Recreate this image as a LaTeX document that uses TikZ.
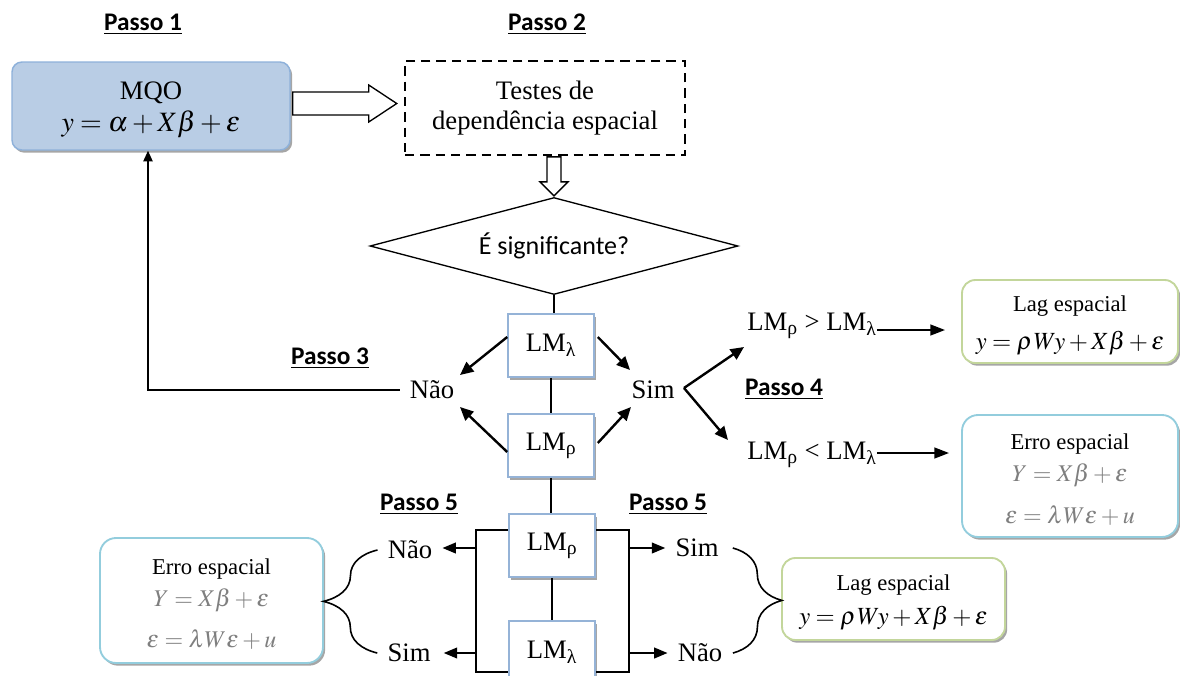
\documentclass[tikz,border=0pt]{standalone}
\usepackage{mathptmx}
\usepackage{fontspec}
\setmainfont{Liberation Serif}
\newfontfamily\calib{Carlito}
\usetikzlibrary{shapes.geometric,arrows.meta,shadows,calc,decorations.pathreplacing}
\definecolor{mqofill}{HTML}{B9CDE5}
\definecolor{mqoline}{HTML}{8EB1DA}
\definecolor{lmline}{HTML}{95B3D7}
\definecolor{lagline}{HTML}{C3D69B}
\definecolor{erroline}{HTML}{93CDDD}
\definecolor{eqgray}{HTML}{7F7F7F}
\newcommand{\lageq}{{\fontsize{18.5}{23}\selectfont$y=\rho\mkern1mu Wy+X\beta+\varepsilon$}}
\newcommand{\erroeqa}{{\fontsize{18}{23}\selectfont\textcolor{eqgray}{$Y=X\beta+\varepsilon$}}}
\newcommand{\erroeqb}{{\fontsize{18}{23}\selectfont\textcolor{eqgray}{$\varepsilon=\lambda W\varepsilon+u$}}}
\newcommand{\topstrut}[1]{\rule{0pt}{#1}}
\begin{document}
\begin{tikzpicture}[x=0.75pt,y=-0.75pt,
  passo/.style={font=\calib\bfseries\fontsize{19}{23}\selectfont, anchor=base, inner sep=0pt},
  lbl/.style={font=\fontsize{20}{23}\selectfont, inner sep=0pt},
  shad/.style={drop shadow={shadow xshift=1.6pt, shadow yshift=-2pt, opacity=0.35, fill=black}},
  mqobox/.style={draw=mqoline, line width=1.1pt, fill=mqofill, rounded corners=7.5pt, shad,
    minimum width=208.5pt, minimum height=66pt, inner sep=0pt, align=center,
    font=\fontsize{20}{24}\selectfont},
  testbox/.style={draw, line width=1.5pt, dash pattern=on 7pt off 4.5pt,
    minimum width=210pt, minimum height=70.5pt, inner sep=0pt, align=center,
    font=\fontsize{20}{23}\selectfont},
  decision/.style={diamond, aspect=3.8, draw, line width=1pt, minimum width=276pt,
    minimum height=72.75pt, inner sep=0pt, font=\calib\fontsize{19.5}{23}\selectfont},
  lmbox/.style={draw=lmline, line width=1.2pt, fill=white, shad, minimum width=64.5pt,
    minimum height=47.25pt, inner sep=0pt, font=\fontsize{20}{23}\selectfont},
  lagbox/.style={draw=lagline, line width=1.4pt, fill=white, rounded corners=10pt, shad,
    inner sep=0pt, align=center, font=\fontsize{17}{23}\selectfont},
  errobox/.style={draw=erroline, line width=1.4pt, fill=white, rounded corners=12pt, shad,
    inner sep=0pt, align=center, font=\fontsize{17}{23}\selectfont},
  conn/.style={line width=1.1pt},
  arrT/.style={line width=1.8pt, -{Triangle[length=10pt,width=9pt]}},
  arrH/.style={line width=1.6pt, -{Triangle[length=11pt,width=8pt]}},
  arrB/.style={line width=1.3pt, -{Triangle[length=10pt,width=8pt]}},
  arrM/.style={line width=1.1pt, -{Triangle[length=8pt,width=7pt]}},
  brc/.style={line width=1.2pt, decorate},
  blockarr/.style={line width=1pt, fill=white, line join=miter}
]
\useasboundingbox (0,0) rectangle (1180,675);

% step labels
\node[passo] (p1) at (143,30) {\underline{Passo 1}};
\node[passo] (p2) at (547,30) {\underline{Passo 2}};
\node[passo] (p3) at (330,364) {\underline{Passo 3}};
\node[passo] (p4) at (784,395) {\underline{Passo 4}};
\node[passo] (p5a) at (419,510) {\underline{Passo 5}};
\node[passo] (p5b) at (668,510) {\underline{Passo 5}};

% main boxes
\node[mqobox] (mqo) at (151,106) {\topstrut{19pt}MQO\\[0pt]{\fontsize{21}{24}\selectfont$y=\alpha+X\beta+\varepsilon$}};
\node[testbox] (tst) at (545,108) {Testes de\\dependência espacial};
\node[decision] (sig) at (554,246) {É significante?};

\node[lmbox] (lml1) at (551,345.5) {LM\textsubscript{λ}};
\node[lmbox] (lmr1) at (551,445.5) {LM\textsubscript{ρ}};
\node[lmbox] (lmr2) at (552,545.5) {LM\textsubscript{ρ}};
\node[lmbox] (lml2) at (552,652.5) {LM\textsubscript{λ}};

% labels
\node[lbl] (nao1) at (432,390) {Não};
\node[lbl] (sim1) at (653,390) {Sim};
\node[lbl] (gt) at (812,326) {LM\textsubscript{ρ} > LM\textsubscript{λ}};
\node[lbl] (lt) at (812,455) {LM\textsubscript{ρ} < LM\textsubscript{λ}};
\node[lbl] (nao2) at (410,550) {Não};
\node[lbl] (sim2) at (409,653) {Sim};
\node[lbl] (sim3) at (697,548) {Sim};
\node[lbl] (nao3) at (700,653) {Não};

% result boxes
\node[lagbox, minimum width=162pt, minimum height=62.25pt] (lagR) at (1070,321.5)
  {\topstrut{18pt}Lag espacial\\[5pt]\lageq};
\node[errobox, minimum width=162pt, minimum height=91.5pt] (erroR) at (1070,476)
  {\topstrut{17pt}Erro espacial\\[1pt]\erroeqa\\[8pt]\erroeqb};
\node[errobox, minimum width=167.25pt, minimum height=93.75pt] (erroL) at (211.5,600.5)
  {\topstrut{17pt}Erro espacial\\[1pt]\erroeqa\\[8pt]\erroeqb};
\node[lagbox, minimum width=167.25pt, minimum height=61.5pt] (lagB) at (893.5,599)
  {\topstrut{17pt}Lag espacial\\[2pt]\lageq};

% block arrows
\draw[blockarr] ($(mqo.east)+(2,-14)$) -- ++(76,0) -- ++(0,-7) -- ++(28,18.5)
  -- ++(-28,18.5) -- ++(0,-7) -- ++(-76,0) -- cycle;
\draw[blockarr] ($(sig.north)+(0,-1)$) -- ++(-14,-14) -- ++(7,0) -- ++(0,-25)
  -- ++(14,0) -- ++(0,25) -- ++(7,0) -- cycle;

% vertical connectors
\draw[conn] (sig.south) -- (sig.south |- lml1.north);
\draw[conn] (lml1.south) -- (lmr1.north);
\draw[conn] (lmr1.south) -- (lmr1.south |- lmr2.north);
\draw[conn] (lmr2.south) -- (lml2.north);

% decisions from LM tests
\draw[arrT] ($(lml1.west)+(0,-8.5)$) -- ($(nao1)+(28,-15)$);
\draw[arrT] ($(lmr1.west)+(0,6.5)$) -- ($(nao1)+(28,17)$);
\draw[arrT] ($(lml1.east)+(3,-8.5)$) -- ($(sim1)+(-23,-20)$);
\draw[arrT] ($(lmr1.east)+(3,-2.5)$) -- ($(sim1)+(-22,17)$);

\coordinate (simv) at ($(sim1)+(31,-2)$);
\draw[arrT] (simv) -- ($(gt)+(-68,21)$);
\draw[arrT] (simv) -- ($(lt)+(-84,-15)$);

\draw[arrH] ($(gt.east)+(0,4)$) -- ($(lagR.west |- gt.east)+(-16,4)$);
\draw[arrH] ($(lt.east)+(0,-2)$) -- ($(erroR.west |- lt.east)+(-12,-2)$);

\draw[arrM] ($(nao1.west)+(-10,0)$) -| ($(mqo.south)+(-3,0)$);

% bottom brackets
\draw[conn] ($(lmr2.west)+(0,-15.5)$) -- ++(-32,0) -- ($(lml2.west)+(-32,19.5)$) -- ($(lml2.west)+(0,19.5)$);
\draw[conn] ($(lmr2.east)+(0,-15.5)$) -- ++(33,0) -- ($(lml2.east)+(33,19.5)$) -- ($(lml2.east)+(0,19.5)$);

\draw[arrB] ($(lmr2.west)+(-32,2.5)$) -- ($(nao2.east)+(10,-2)$);
\draw[arrB] ($(lml2.west)+(-32,0.5)$) -- ($(sim2.east)+(13,0)$);
\draw[arrB] ($(lmr2.east)+(33,2.5)$) -- ($(sim3.west)+(-10,0)$);
\draw[arrB] ($(lml2.east)+(33,0.5)$) -- ($(nao3.west)+(-10,0)$);

% braces
\draw[brc, decoration={brace, amplitude=40.5pt}] ($(sim2.west)+(-10,0)$) -- ($(nao2.west)+(-10,0)$);
\draw[brc, decoration={brace, amplitude=36.75pt}] ($(sim3.east)+(14,0)$) -- ($(nao3.east)+(10.5,0)$);
\end{tikzpicture}
\end{document}
